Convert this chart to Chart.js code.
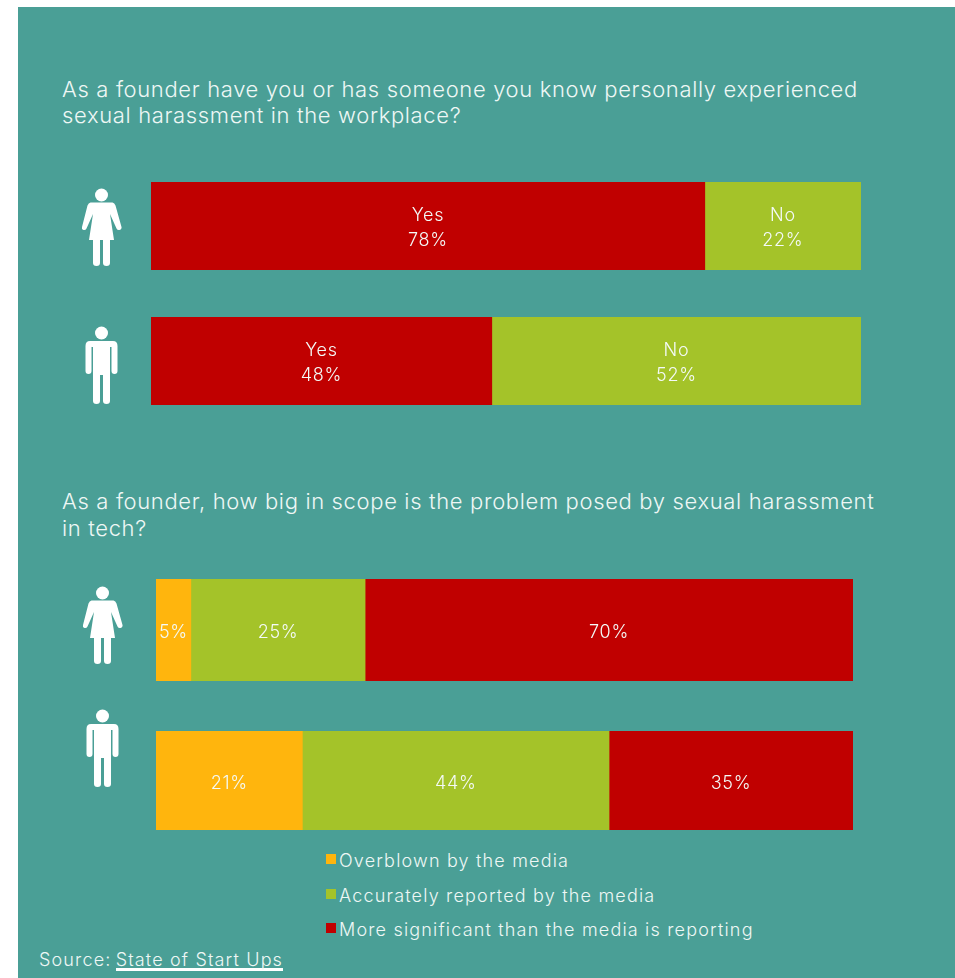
<!DOCTYPE html>
<html>
<head>
<meta charset="utf-8">
<title>Sexual harassment in tech</title>
<script src="https://cdn.jsdelivr.net/npm/chart.js@4"></script>
<style>
  html, body { margin: 0; padding: 0; background: #fff; overflow: hidden; }
  #page { position: relative; width: 955px; height: 978px; overflow: hidden; }
  #panel { position: absolute; left: 18px; top: 7px; width: 937px; height: 971px; background: #4a9f96; }
  #page canvas, #page svg.person { position: absolute; }
  .question, .legend-row, #source {
    position: absolute; color: #eef7f5; font-family: Inter, sans-serif; font-weight: 300; white-space: nowrap;
  }
  .question { left: 62px; font-size: 22px; line-height: 26px; letter-spacing: 0.65px; }
  .legend-row { left: 339px; font-size: 18px; line-height: 22px; letter-spacing: 1.18px; }
  .swatch { position: absolute; left: 326px; width: 10px; height: 10px; }
  #source { left: 39px; top: 949px; font-size: 18px; line-height: 22px; letter-spacing: 1.15px; }
  #source span { border-bottom: 3px solid #fff; line-height: 17px; display: inline-block; margin-left: -2px; }
</style>
</head>
<body>
<div id="page">
  <div id="panel"></div>

  <svg width="0" height="0" style="position:absolute">
    <symbol id="woman" viewBox="0 0 40 80">
      <circle cx="19.5" cy="7" r="6.5" fill="#fff"/>
      <path d="M8.500 14.500 H30.500 Q32.500 15 33.500 17.500 L39.500 39 Q40 41.500 37.500 42 Q35.500 42.500 34.500 40.500 L28 26 L32 52 H7 L11 26 L4.500 40.500 Q3.500 42.500 1.500 42 Q-0.500 41.500 0 39 L5.500 17.500 Q6.500 15 8.500 14.500 Z" fill="#fff"/>
      <path d="M11 51 H18 V75 Q18 78 14.500 78 Q11 78 11 75 Z M21 51 H28 V75 Q28 78 24.500 78 Q21 78 21 75 Z" fill="#fff"/>
    </symbol>
    <symbol id="man" viewBox="0 0 34 80">
      <circle cx="16.500" cy="7" r="6.500" fill="#fff"/>
      <path d="M5 15 H28 Q32.500 15 32.500 20 V45 Q32.500 48 29.500 48 Q26.500 48 26.500 45 V21 H25 V75 Q25 78 21.500 78 Q18 78 18 75 V49 H15 V75 Q15 78 11.500 78 Q8 78 8 75 V21 H6.500 V45 Q6.500 48 3.500 48 Q0.500 48 0.500 45 V20 Q0.500 15 5 15 Z" fill="#fff"/>
    </symbol>
  </svg>

  <div class="question" style="top:76px">As a founder have you or has someone you know personally experienced<br>sexual harassment in the workplace?</div>
  <svg class="person" style="left:82px;top:188px" width="40" height="80"><use href="#woman"/></svg>
  <canvas id="founderWomenChart" style="left:151px;top:182px" width="710" height="88"></canvas>
  <svg class="person" style="left:85px;top:326px" width="34" height="80"><use href="#man"/></svg>
  <canvas id="founderMenChart" style="left:151px;top:317px" width="710" height="88"></canvas>

  <div class="question" style="top:488px;line-height:27px">As a founder, how big in scope is the problem posed by sexual harassment<br>in tech?</div>
  <svg class="person" style="left:83px;top:586px" width="40" height="80"><use href="#woman"/></svg>
  <canvas id="scopeWomenChart" style="left:156px;top:579px" width="697" height="102"></canvas>
  <svg class="person" style="left:86px;top:709px" width="34" height="80"><use href="#man"/></svg>
  <canvas id="scopeMenChart" style="left:156px;top:731px" width="697" height="99"></canvas>

  <div id="legend"></div>
  <div id="source">Source: <span>State of Start Ups</span></div>
</div>

<script>
const answerNames = ['Yes', 'No'];
const answerColors = ['#c00000', '#a4c329'];
const founderWomen = [78, 22];
const founderMen = [48, 52];

const scopeNames = ['Overblown by the media', 'Accurately reported by the media', 'More significant than the media is reporting'];
const scopeColors = ['#ffb50d', '#a4c329', '#c00000'];
const scopeWomen = [5, 25, 70];
const scopeMen = [21, 44, 35];

// writes the percentage (and optional answer name) in the middle of each segment
const segmentLabels = {
  id: 'segmentLabels',
  afterDatasetsDraw(chart, args, opts) {
    const ctx = chart.ctx;
    ctx.save();
    ctx.font = '300 18px Inter, sans-serif';
    ctx.letterSpacing = '0.7px';
    ctx.fillStyle = '#f4faf8';
    ctx.textAlign = 'center';
    ctx.textBaseline = 'middle';
    chart.data.datasets.forEach((ds, i) => {
      const bar = chart.getDatasetMeta(i).data[0];
      const text = ds.data[0] + '%';
      if (opts.showNames) {
        ctx.fillText(ds.label, bar.x - bar.width / 2, bar.y - 10);
        ctx.fillText(text, bar.x - bar.width / 2, bar.y + 15);
      } else {
        ctx.fillText(text, bar.x - bar.width / 2, bar.y + 3);
      }
    });
    ctx.restore();
  }
};

function drawBar(id, values, names, colors, showNames) {
  const ctx = document.getElementById(id).getContext('2d');
  return new Chart(ctx, {
    type: 'bar',
    plugins: [segmentLabels],
    data: {
      labels: [''],
      datasets: values.map((v, i) => ({
        label: names[i],
        data: [v],
        backgroundColor: colors[i],
        borderWidth: 0,
        barPercentage: 1,
        categoryPercentage: 1
      }))
    },
    options: {
      indexAxis: 'y',
      responsive: false,
      animation: false,
      layout: { padding: 0 },
      scales: {
        x: { stacked: true, display: false, min: 0, max: 100 },
        y: { stacked: true, display: false }
      },
      plugins: {
        legend: { display: false },
        tooltip: { enabled: false },
        segmentLabels: { showNames: showNames }
      }
    }
  });
}

drawBar('founderWomenChart', founderWomen, answerNames, answerColors, true);
drawBar('founderMenChart', founderMen, answerNames, answerColors, true);
drawBar('scopeWomenChart', scopeWomen, scopeNames, scopeColors, false);
drawBar('scopeMenChart', scopeMen, scopeNames, scopeColors, false);

// legend under the second question
const legendTops = [850, 885, 919];
const legend = document.getElementById('legend');
scopeNames.forEach((name, i) => {
  const swatch = document.createElement('div');
  swatch.className = 'swatch';
  swatch.style.top = (legendTops[i] + 4) + 'px';
  swatch.style.background = scopeColors[i];
  legend.appendChild(swatch);
  const row = document.createElement('div');
  row.className = 'legend-row';
  row.style.top = legendTops[i] + 'px';
  row.textContent = name;
  legend.appendChild(row);
});
</script>
</body>
</html>
